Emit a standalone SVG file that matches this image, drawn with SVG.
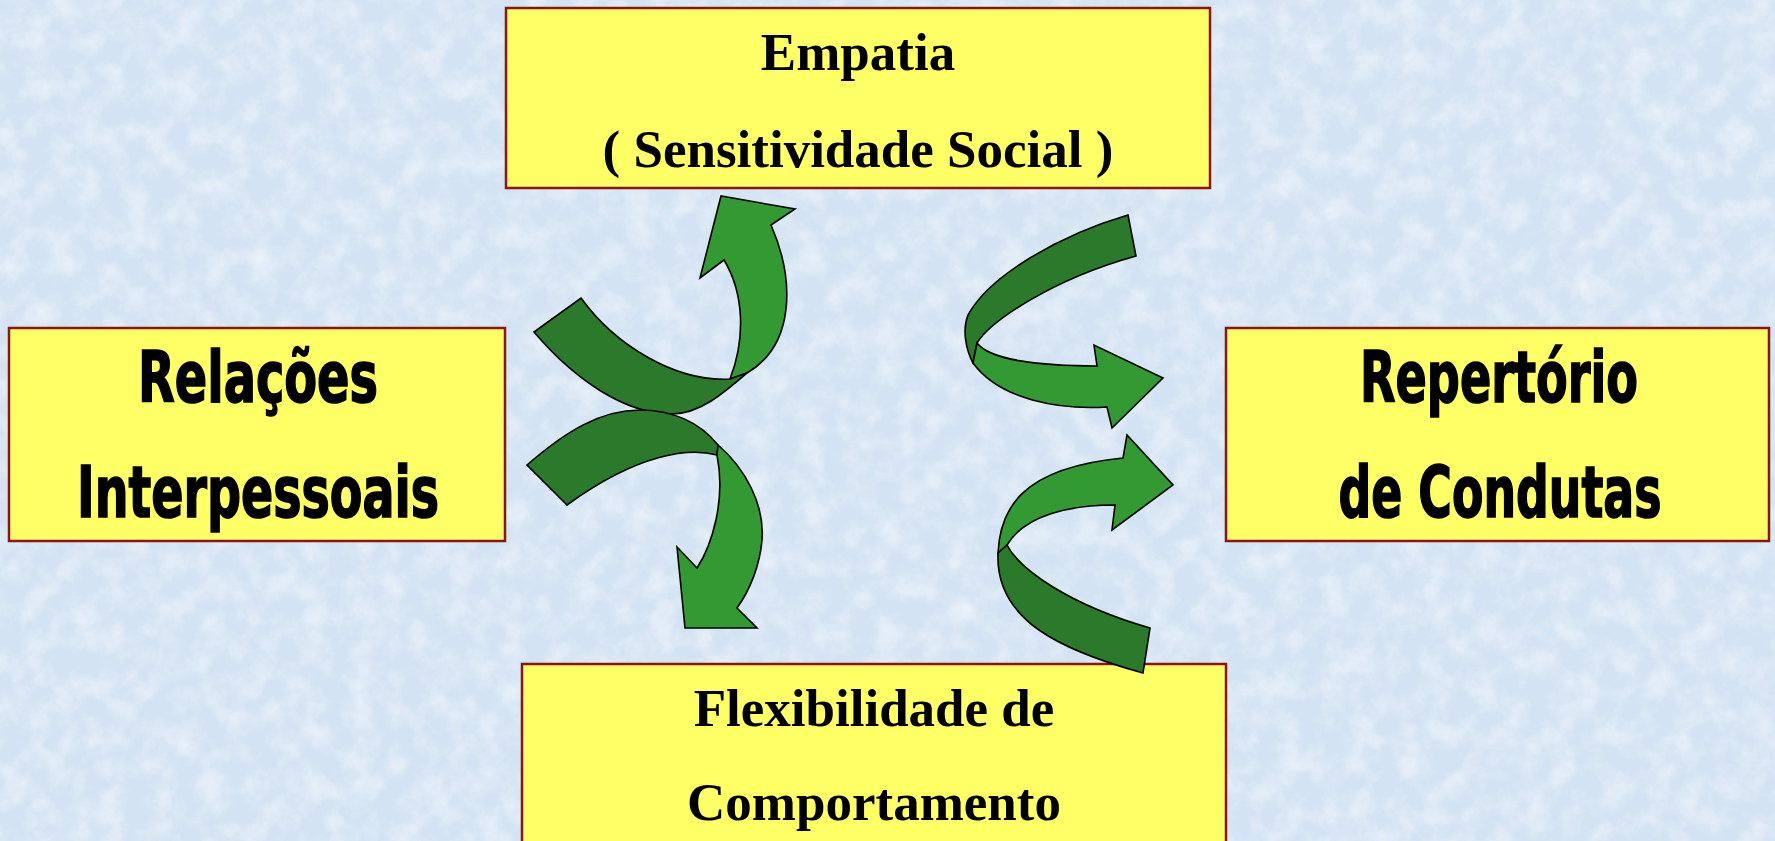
<svg xmlns="http://www.w3.org/2000/svg" width="1775" height="841" viewBox="0 0 1775 841">
<style>
.box{fill:#FFFF66;stroke:#8B1414;stroke-width:2.5}
.ser{font-family:"Liberation Serif","Times New Roman",serif;font-weight:bold;font-size:53px;fill:#000;text-anchor:middle}
.imp{font-family:"DejaVu Sans Condensed","DejaVu Sans",sans-serif;font-weight:bold;font-size:71px;fill:#000;stroke:#000;stroke-width:1.6;text-anchor:middle}
.dk{fill:#2B7A2B;stroke:#000;stroke-width:1.6;stroke-linejoin:miter}
.lt{fill:#339933;stroke:#000;stroke-width:1.6;stroke-linejoin:miter}
</style>
<defs>
<filter id="tex" x="0" y="0" width="100%" height="100%">
<feTurbulence type="fractalNoise" baseFrequency="0.04" numOctaves="4" seed="5"/>
<feColorMatrix values="0 0 0 0 1  0 0 0 0 1  0 0 0 0 1  0 0 0 0.9 -0.33"/>
</filter>
</defs>
<rect width="1775" height="841" fill="#D3E3F3"/>
<rect width="1775" height="841" fill="#fff" filter="url(#tex)"/>

<g id="node-empatia">
<rect class="box" x="506" y="8" width="704" height="180"/>
<text class="ser" x="858" y="70">Empatia</text>
<text class="ser" x="858" y="167">( Sensitividade Social )</text>
</g>
<g id="node-relacoes">
<rect class="box" x="9" y="328" width="496" height="213"/>
<text class="imp" x="258" y="402" textLength="240" lengthAdjust="spacingAndGlyphs">Relações</text>
<text class="imp" x="258" y="517" textLength="362" lengthAdjust="spacingAndGlyphs">Interpessoais</text>
</g>
<g id="node-repertorio">
<rect class="box" x="1226" y="328" width="543" height="213"/>
<text class="imp" x="1499" y="402" textLength="278" lengthAdjust="spacingAndGlyphs">Repertório</text>
<text class="imp" x="1500" y="517" textLength="323" lengthAdjust="spacingAndGlyphs">de Condutas</text>
</g>
<g id="node-flexibilidade">
<rect class="box" x="522" y="664" width="704" height="190"/>
<text class="ser" x="874" y="726">Flexibilidade de</text>
<text class="ser" x="874" y="820">Comportamento</text>
</g>

<g id="connectors">
<path class="lt" d="M730,379 C745,340 745,295 724,260 L700,278 L721,196 L795,209 L771,225 C795,280 795,345 747,373 Z"/>
<path class="dk" d="M534,332 L581,298 C615,345 675,382 730,379 L747,373 C725,392 700,414 672,414 C625,414 575,380 534,332 Z"/>
<path class="dk" d="M527,465 C565,432 600,410 640,410 C672,410 700,422 718,445 L717,455 C690,448 640,452 567,505 Z"/>
<path class="lt" d="M718,445 C745,468 765,505 762,540 C760,565 750,590 737,608 L757,628 L685,628 L677,547 L697,568 C712,545 726,500 717,455 Z"/>
<path class="dk" d="M1128,215 C1060,235 990,275 968,315 C962,330 966,350 973,363 L977,343 C990,322 1050,280 1136,256 Z"/>
<path class="lt" d="M977,343 C990,360 1040,366 1097,366 L1094,345 L1163,378 L1112,428 L1107,407 C1060,410 1000,400 973,363 Z"/>
<path class="lt" d="M998,553 C1000,510 1020,468 1123,458 L1127,435 L1173,485 L1112,530 L1115,505 C1070,505 1025,515 1007,545 Z"/>
<path class="dk" d="M1007,545 C1020,570 1070,605 1150,628 L1143,673 C1060,650 995,620 998,553 Z"/>
</g>
</svg>
